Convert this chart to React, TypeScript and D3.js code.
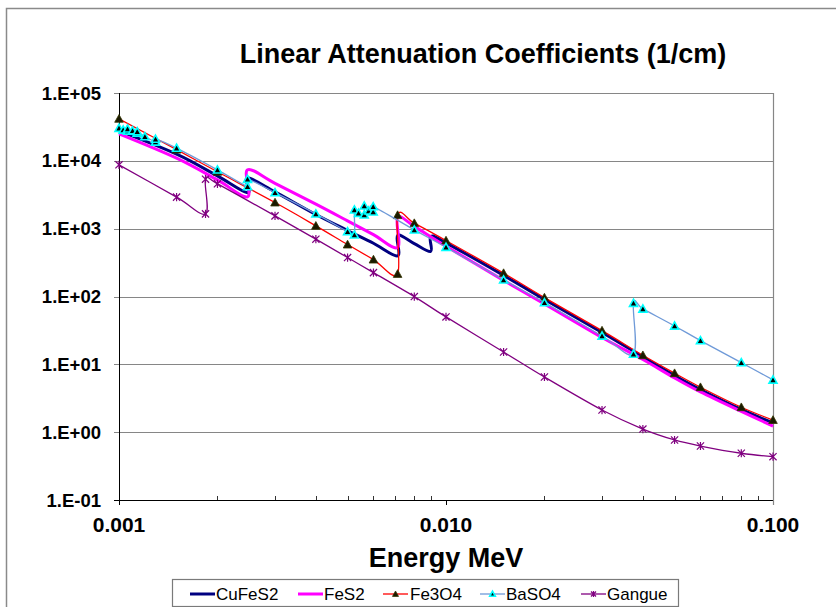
import React from "react";
import * as d3 from "d3";

// ---- Data (energies in MeV, values in 1/cm) ----
const cuFeS2Energy = [0.001, 0.0015, 0.002, 0.002472, 0.002472, 0.003, 0.004, 0.005, 0.006, 0.007112, 0.007112, 0.008, 0.008979, 0.008979, 0.01, 0.015, 0.02, 0.03, 0.04, 0.05, 0.06, 0.08, 0.1];
const cuFeS2Values = [27700, 12560, 5990, 3375, 5610, 3490, 1615, 940, 609, 397, 796, 601, 462, 770, 618, 205, 90.6, 29.5, 12.9, 6.86, 4.26, 2.16, 1.37];

const feS2Energy = [0.001, 0.0015, 0.002, 0.002472, 0.002472, 0.003, 0.004, 0.005, 0.006, 0.007112, 0.007112, 0.008, 0.01, 0.015, 0.02, 0.03, 0.04, 0.05, 0.06, 0.08, 0.1];
const feS2Values = [25000, 10960, 5230, 2945, 7370, 4660, 2297, 1303, 816, 526, 1468, 1081, 550, 173, 77.8, 24.9, 11.8, 6.3, 3.92, 2.02, 1.23];

const fe3O4Energy = [0.001, 0.0015, 0.002, 0.003, 0.004, 0.005, 0.006, 0.007112, 0.007112, 0.008, 0.01, 0.015, 0.02, 0.03, 0.04, 0.05, 0.06, 0.08, 0.1];
const fe3O4Values = [41600, 14600, 6900, 2427, 1100, 583, 350, 215, 1582, 1205, 667, 221, 96.3, 31.4, 13.6, 7.4, 4.6, 2.33, 1.51];

const baSO4Energy = [0.001, 0.00103, 0.001062, 0.001062, 0.0011, 0.001137, 0.001137, 0.0012, 0.001293, 0.001293, 0.0015, 0.002, 0.002472, 0.002472, 0.003, 0.004, 0.005, 0.005247, 0.005247, 0.0054, 0.005624, 0.005624, 0.0058, 0.005989, 0.005989, 0.008, 0.01, 0.015, 0.02, 0.03, 0.03744, 0.03744, 0.04, 0.05, 0.06, 0.08, 0.1];
const baSO4Values = [30300, 28600, 27600, 29600, 27800, 25800, 27000, 22800, 19000, 20900, 15400, 7370, 4180, 5370, 3400, 1653, 906, 810, 1893, 1693, 1600, 2170, 1832, 1770, 2118, 960, 533, 176, 81.3, 26.2, 14.2, 79.6, 65.6, 36.8, 22.4, 10.6, 5.9];

const gangueEnergy = [0.001, 0.0015, 0.001839, 0.001839, 0.002, 0.003, 0.004, 0.005, 0.006, 0.008, 0.01, 0.015, 0.02, 0.03, 0.04, 0.05, 0.06, 0.08, 0.1];
const gangueValues = [8730, 2915, 1653, 5370, 4580, 1545, 700, 375, 225, 99.7, 50, 15.2, 6.5, 2.12, 1.11, 0.767, 0.625, 0.489, 0.435];

const seriesNames = ["CuFeS2", "FeS2", "Fe3O4", "BaSO4", "Gangue"];

const yTicks = [0.1, 1, 10, 100, 1000, 10000, 100000];
const yTickLabels = ["1.E-01", "1.E+00", "1.E+01", "1.E+02", "1.E+03", "1.E+04", "1.E+05"];
const xTicks = [0.001, 0.01, 0.1];
const xTickLabels = ["0.001", "0.010", "0.100"];

const title = "Linear Attenuation Coefficients (1/cm)";
const xTitle = "Energy MeV";

const FONT = "'Liberation Sans', Arial, Helvetica, sans-serif";

type Pt = [number, number];

export default function App() {
  const W = 836, H = 607;
  const left = 119, right = 773, top = 93, bottom = 500;
  const x = d3.scaleLog().domain([0.001, 0.1]).range([left, right]);
  const y = d3.scaleLog().domain([0.1, 100000]).range([bottom, top]);

  const line = d3
    .line<Pt>()
    .x((d) => x(d[0]))
    .y((d) => y(d[1]))
    .curve(d3.curveCardinal.tension(0));

  const zip = (e: number[], v: number[]): Pt[] => e.map((d, i) => [d, v[i]] as Pt);

  const series = [
    { name: seriesNames[0], data: zip(cuFeS2Energy, cuFeS2Values), color: "#000080", width: 3, marker: "none" },
    { name: seriesNames[1], data: zip(feS2Energy, feS2Values), color: "#FF00FF", width: 3, marker: "none" },
    { name: seriesNames[2], data: zip(fe3O4Energy, fe3O4Values), color: "#FF0000", width: 1.3, marker: "triBlack" },
    { name: seriesNames[3], data: zip(baSO4Energy, baSO4Values), color: "#6f9ad8", width: 1.3, marker: "triCyan" },
    { name: seriesNames[4], data: zip(gangueEnergy, gangueValues), color: "#800080", width: 1.3, marker: "star" },
  ];

  const marker = (kind: string, cx: number, cy: number, key: string | number, s = 1) => {
    if (kind === "triBlack") {
      const r = 4.3 * s;
      return (
        <path key={key} d={`M${cx},${cy - r}L${cx + r},${cy + r * 0.8}L${cx - r},${cy + r * 0.8}Z`} fill="#1a1a00" stroke="#333300" strokeWidth={0.8} />
      );
    }
    if (kind === "triCyan") {
      const r = 4 * s;
      return (
        <path key={key} d={`M${cx},${cy - r}L${cx + r},${cy + r * 0.8}L${cx - r},${cy + r * 0.8}Z`} fill="#000" stroke="#00FFFF" strokeWidth={1.6} />
      );
    }
    if (kind === "star") {
      const r = 3.6 * s;
      return (
        <path key={key} d={`M${cx - r},${cy - r}L${cx + r},${cy + r}M${cx - r},${cy + r}L${cx + r},${cy - r}M${cx},${cy - r - 0.5}L${cx},${cy + r + 0.5}`} stroke="#800080" strokeWidth={1.2} fill="none" />
      );
    }
    return null;
  };

  const minorTicks: number[] = [];
  for (const base of [0.001, 0.01]) for (let k = 2; k <= 9; k++) minorTicks.push(base * k);

  const legendItems = [
    { lx: 190, tx: 216 },
    { lx: 298, tx: 324 },
    { lx: 383, tx: 410 },
    { lx: 480, tx: 506 },
    { lx: 581, tx: 607 },
  ];

  return (
    <svg width={W} height={H} style={{ position: "absolute", left: 0, top: 0, background: "#fff" }} fontFamily={FONT}>
      <rect x={6.5} y={8.5} width={W + 20} height={H + 20} fill="#fff" stroke="#8a8a8a" strokeWidth={1.5} />
      <text x={483} y={63} textAnchor="middle" fontSize={27} fontWeight="bold" fill="#000">{title}</text>

      {/* gridlines */}
      {yTicks.map((t, i) => (
        <line key={"g" + i} x1={left - 5} x2={right} y1={Math.round(y(t)) + 0.5} y2={Math.round(y(t)) + 0.5} stroke={i === 0 ? "#000" : "#868686"} strokeWidth={1} />
      ))}
      <line x1={right + 0.5} x2={right + 0.5} y1={top} y2={bottom + 5} stroke="#868686" strokeWidth={1.2} />
      <line x1={left + 0.5} x2={left + 0.5} y1={top} y2={bottom + 5} stroke="#000" strokeWidth={1} />
      {xTicks.map((t, i) => (
        <line key={"xt" + i} x1={Math.round(x(t)) + 0.5} x2={Math.round(x(t)) + 0.5} y1={bottom} y2={bottom + 5} stroke={i === 2 ? "#868686" : "#000"} />
      ))}
      {minorTicks.map((t, i) => (
        <line key={"mt" + i} x1={Math.round(x(t)) + 0.5} x2={Math.round(x(t)) + 0.5} y1={bottom - 4} y2={bottom} stroke="#000" strokeWidth={0.8} />
      ))}

      {/* y labels */}
      {yTicks.map((t, i) => (
        <text key={"yl" + i} x={101} y={y(t) + 6.5} textAnchor="end" fontSize={18.5} fontWeight="bold" fill="#000">{yTickLabels[i]}</text>
      ))}
      {xTicks.map((t, i) => (
        <text key={"xl" + i} x={x(t)} y={532} textAnchor="middle" fontSize={21} fontWeight="bold" fill="#000">{xTickLabels[i]}</text>
      ))}
      <text x={446} y={567} textAnchor="middle" fontSize={27} fontWeight="bold" fill="#000">{xTitle}</text>

      {/* series */}
      {series.map((s) => (
        <g key={s.name}>
          <path d={line(s.data) || ""} fill="none" stroke={s.color} strokeWidth={s.width} strokeLinejoin="round" />
          {s.data.map((d, i) => marker(s.marker, x(d[0]), y(d[1]), i))}
        </g>
      ))}

      {/* legend */}
      <rect x={172.5} y={579.5} width={506} height={27} fill="#fff" stroke="#7a7a7a" strokeWidth={1.2} />
      {series.map((s, i) => (
        <g key={"lg" + i}>
          <line x1={legendItems[i].lx} x2={legendItems[i].lx + 25} y1={594} y2={594} stroke={s.color} strokeWidth={s.width} />
          {marker(s.marker, legendItems[i].lx + 12.5, 594, "m", 0.7)}
          <text x={legendItems[i].tx} y={599.5} fontSize={17} fill="#000">{s.name}</text>
        </g>
      ))}
    </svg>
  );
}
